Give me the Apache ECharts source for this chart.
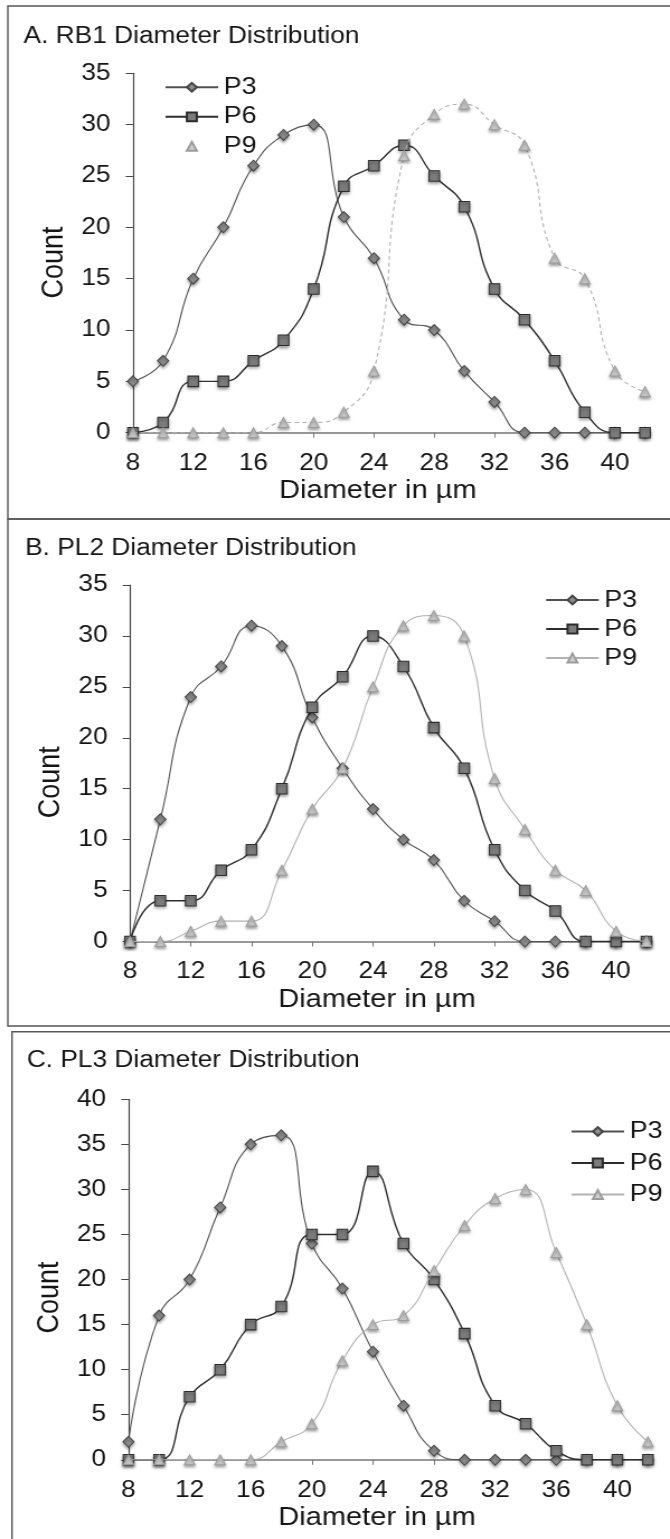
<!DOCTYPE html>
<html>
<head>
<meta charset="utf-8">
<script src="https://cdn.jsdelivr.net/npm/echarts@6/dist/echarts.min.js"></script>
<style>
  html, body { margin: 0; padding: 0; background: #ffffff; overflow: hidden; }
  /* the figure is laid out at 599px and widened to the 670px page, giving the wide lettering of the printed figure */
  #chart { width: 599px; height: 1539px; transform: scaleX(1.1185); transform-origin: 0 0; }
</style>
</head>
<body>
<div id="chart"></div>
<script>
// Diameter classes (µm)
const diameters = [8, 10, 12, 14, 16, 18, 20, 22, 24, 26, 28, 30, 32, 34, 36, 38, 40, 42];

// A. RB1 counts per passage
const rb1P3 = [5, 7, 15, 20, 26, 29, 30, 21, 17, 11, 10, 6, 3, 0, 0, 0, 0, 0];
const rb1P6 = [0, 1, 5, 5, 7, 9, 14, 24, 26, 28, 25, 22, 14, 11, 7, 2, 0, 0];
const rb1P9 = [0, 0, 0, 0, 0, 1, 1, 2, 6, 27, 31, 32, 30, 28, 17, 15, 6, 4];

// B. PL2 counts per passage
const pl2P3 = [0, 12, 24, 27, 31, 29, 22, 17, 13, 10, 8, 4, 2, 0, 0, 0, 0, 0];
const pl2P6 = [0, 4, 4, 7, 9, 15, 23, 26, 30, 27, 21, 17, 9, 5, 3, 0, 0, 0];
const pl2P9 = [0, 0, 1, 2, 2, 7, 13, 17, 25, 31, 32, 30, 16, 11, 7, 5, 1, 0];

// C. PL3 counts per passage
const pl3P3 = [2, 16, 20, 28, 35, 36, 24, 19, 12, 6, 1, 0, 0, 0, 0, 0, 0, 0];
const pl3P6 = [0, 0, 7, 10, 15, 17, 25, 25, 32, 24, 20, 14, 6, 4, 1, 0, 0, 0];
const pl3P9 = [0, 0, 0, 0, 0, 2, 4, 11, 15, 16, 21, 26, 29, 30, 23, 15, 6, 2];

const xTicks = { min: 8, max: 42, interval: 4 };
const panelTitles = ['A. RB1 Diameter Distribution', 'B. PL2 Diameter Distribution', 'C. PL3 Diameter Distribution'];
const sampleNames = ['RB1', 'PL2', 'PL3'];
const yMax = [35, 35, 40];
const yTickStep = 5;
const passages = ['P3', 'P6', 'P9'];
const panelData = [
  [rb1P3, rb1P6, rb1P9],
  [pl2P3, pl2P6, pl2P9],
  [pl3P3, pl3P6, pl3P9]
];

const FONT = 'Liberation Sans, Arial, sans-serif';
const TXT = '#151515';

const grids = [
  { left: 118.9, top: 73.3, width: 457.8, height: 359.4 },
  { left: 116.2, top: 585, width: 461.8, height: 356.5 },
  { left: 114.9, top: 1099.3, width: 464.4, height: 360.5 }
];
// vertical nudge of the "Count" caption in each panel
const countShift = [19, 38, 36];

const passageStyle = {
  P3: { symbol: 'diamond', size: [10, 11], line: '#505050', lw: 1.1, fill: '#8c8c8c', border: '#444444' },
  P6: { symbol: 'rect', size: [9.5, 10.5], line: '#2e2e2e', lw: 1.4, fill: '#7c7c7c', border: '#2c2c2c' },
  P9: { symbol: 'triangle', size: [9.5, 10], line: '#b2b2b2', lw: 1.1, fill: '#cdcdcd', border: '#9c9c9c' }
};

const xAxes = [], yAxes = [], series = [], titles = [], legends = [];

grids.forEach((g, i) => {
  xAxes.push({
    type: 'value', gridIndex: i,
    min: xTicks.min, max: xTicks.max, interval: xTicks.interval,
    name: 'Diameter in µm', nameLocation: 'middle', nameGap: 45,
    nameTextStyle: { fontSize: 26, color: TXT, fontFamily: FONT, padding: [0, 20, 0, 0] },
    axisLine: { show: true, onZero: false, lineStyle: { color: '#777777', width: 1.6 } },
    axisTick: { show: true, length: 5, lineStyle: { color: '#777777' } },
    axisLabel: { fontSize: 23.5, color: TXT, fontFamily: FONT, margin: 18.5, showMaxLabel: false },
    splitLine: { show: false }
  });
  yAxes.push({
    type: 'value', gridIndex: i,
    min: 0, max: yMax[i], interval: yTickStep,
    name: 'Count', nameLocation: 'middle', nameGap: 49, nameRotate: 90,
    nameTextStyle: { fontSize: 27, color: TXT, fontFamily: FONT, padding: [0, countShift[i], 0, 0] },
    axisLine: { show: true, lineStyle: { color: '#454545', width: 1.2 } },
    axisTick: { show: true, length: 6.5, lineStyle: { color: '#454545' } },
    axisLabel: { fontSize: 23.5, color: TXT, fontFamily: FONT, margin: 20 },
    splitLine: { show: false }
  });

  passages.forEach((p, k) => {
    const st = passageStyle[p];
    const dashed = (i === 0 && p === 'P9');
    series.push({
      name: sampleNames[i] + ' ' + p,
      type: 'line', xAxisIndex: i, yAxisIndex: i,
      data: diameters.map((d, j) => [d, panelData[i][k][j]]),
      smooth: 0.5,
      symbol: st.symbol, symbolSize: st.size,
      lineStyle: { color: st.line, width: st.lw, type: dashed ? [4, 3] : 'solid' },
      itemStyle: {
        color: st.fill, borderColor: st.border, borderWidth: 1,
        shadowColor: 'rgba(0,0,0,0.35)', shadowBlur: 3, shadowOffsetY: 2
      },
      z: 2 + k
    });
  });
});

const titleLeft = [21, 22.4, 23.9];
const titleTop = [25, 537, 1049];
panelTitles.forEach((t, i) => {
  titles.push({
    text: t, left: titleLeft[i], top: titleTop[i], padding: 0,
    textStyle: { fontSize: 23.5, fontWeight: 'normal', color: TXT, fontFamily: FONT }
  });
});

const legendPos = [
  { left: 147, top: 75.3, gap: 5.5 },
  { left: 487.3, top: 588, gap: 5 },
  { left: 510, top: 1119.5, gap: 7.5 }
];
legendPos.forEach((pos, i) => {
  legends.push({
    left: pos.left, top: pos.top, orient: 'vertical',
    itemWidth: 47, itemHeight: 11, itemGap: pos.gap, padding: 0,
    selectedMode: false,
    formatter: (n) => n.split(' ').pop(),
    textStyle: { fontSize: 24, color: TXT, fontFamily: FONT },
    data: passages.map(p => {
      const item = { name: sampleNames[i] + ' ' + p };
      if (i === 0 && p === 'P9') item.lineStyle = { opacity: 0 };
      return item;
    })
  });
});

const chart = echarts.init(document.getElementById('chart'), null, { renderer: 'canvas' });
chart.setOption({
  backgroundColor: '#ffffff',
  animation: false,
  title: titles,
  legend: legends,
  grid: grids,
  xAxis: xAxes,
  yAxis: yAxes,
  series: series,
  graphic: [
    { type: 'rect', silent: true, shape: { x: 7, y: 6, width: 600, height: 513 }, style: { fill: 'none', stroke: '#555', lineWidth: 1.4 } },
    { type: 'rect', silent: true, shape: { x: 7, y: 519, width: 600, height: 507 }, style: { fill: 'none', stroke: '#555', lineWidth: 1.4 } },
    { type: 'rect', silent: true, shape: { x: 10.7, y: 1031.7, width: 600, height: 520 }, style: { fill: 'none', stroke: '#555', lineWidth: 1.4 } }
  ]
});
</script>
</body>
</html>
